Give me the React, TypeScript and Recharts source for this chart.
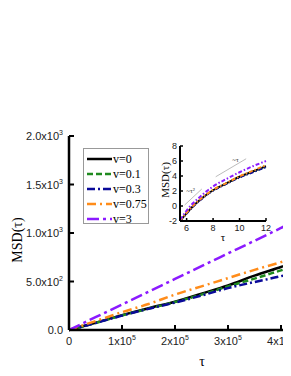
import React from "react"
import { LineChart, Line, XAxis, YAxis, ReferenceLine, ReferenceDot } from "recharts"

// main panel: tau in steps of 0.5x10^5
const tau = [0, 50000, 100000, 150000, 200000, 250000, 300000, 350000, 400000, 450000, 500000]
const msdV0 = [0, 75, 153, 225, 292, 375, 459, 560, 650, 745, 840]
const msdV01 = [0, 72, 150, 220, 288, 365, 449, 530, 615, 700, 790]
const msdV03 = [0, 72, 148, 218, 283, 355, 432, 495, 555, 630, 705]
const msdV075 = [0, 92, 184, 268, 365, 450, 535, 620, 700, 790, 875]
const msdV3 = [0, 132, 263, 395, 526, 658, 789, 920, 1052, 1184, 1315]

// inset (log scale)
const insetTau = [5.5, 6, 6.5, 7, 7.5, 8, 9, 10, 11, 12]
const insV0 = [-2, -0.95, 0, 0.8, 1.5, 2.1, 3.0, 3.9, 4.6, 5.3]
const insV01 = [-2, -0.95, 0, 0.8, 1.5, 2.1, 3.0, 3.85, 4.55, 5.25]
const insV03 = [-2, -1, -0.05, 0.75, 1.45, 2.05, 2.95, 3.8, 4.5, 5.2]
const insV075 = [-2, -0.9, 0.05, 0.85, 1.55, 2.15, 3.05, 3.95, 4.7, 5.45]
const insV3 = [-1.85, -0.6, 0.4, 1.2, 1.95, 2.6, 3.6, 4.5, 5.3, 6.0]

const xTicks = [0, 100000, 200000, 300000, 400000, 500000]
const xTickLabels = [["0", ""], ["1x10", "5"], ["2x10", "5"], ["3x10", "5"], ["4x10", "5"], ["5x10", "5"]]
const yTicks = [0, 500, 1000, 1500, 2000]
const yTickLabels = [["0.0", ""], ["5.0x10", "2"], ["1.0x10", "3"], ["1.5x10", "3"], ["2.0x10", "3"]]
const insetXTicks = [6, 8, 10, 12]
const insetYTicks = [-2, 0, 2, 4, 6, 8]

const series = [
  { key: "v0", name: "v=0", color: "#000000", dash: undefined },
  { key: "v01", name: "v=0.1", color: "#1f8a1f", dash: "6 3" },
  { key: "v03", name: "v=0.3", color: "#0a0a99", dash: "8 3 2 3" },
  { key: "v075", name: "v=0.75", color: "#ff8c1a", dash: "9 4 2 4" },
  { key: "v3", name: "v=3", color: "#8b1aff", dash: "12 4 3 4" },
]

const mainData = tau.map((t, i) => ({
  t, v0: msdV0[i], v01: msdV01[i], v03: msdV03[i], v075: msdV075[i], v3: msdV3[i],
}))
const insetData = insetTau.map((t, i) => ({
  t, v0: insV0[i], v01: insV01[i], v03: insV03[i], v075: insV075[i], v3: insV3[i],
}))

const sans = "'Liberation Sans', Arial, sans-serif"
const serif = "'Liberation Serif', 'Times New Roman', serif"

function MainYTick({ x, y, payload }: any) {
  const i = yTicks.indexOf(payload.value)
  const [base, sup] = yTickLabels[i] || [String(payload.value), ""]
  const ax = x + 6
  return (
    <g>
      <line x1={ax} x2={ax + 5} y1={y} y2={y} stroke="#000" strokeWidth={2} />
      <text x={x} y={y + 4} textAnchor="end" fontFamily={sans} fontSize={11} fill="#222">
        <tspan>{base}</tspan>
        {sup && <tspan dy={-5} fontSize={7}>{sup}</tspan>}
      </text>
    </g>
  )
}

function MainXTick({ x, y, payload }: any) {
  const i = xTicks.indexOf(payload.value)
  const [base, sup] = xTickLabels[i] || [String(payload.value), ""]
  const ay = y - 4
  return (
    <g>
      <line x1={x} x2={x} y1={ay} y2={ay - 5} stroke="#000" strokeWidth={2} />
      <text x={x} y={y + 11} textAnchor="middle" fontFamily={sans} fontSize={11} fill="#222">
        <tspan>{base}</tspan>
        {sup && <tspan dy={-5} fontSize={7}>{sup}</tspan>}
      </text>
    </g>
  )
}

function InsetYTick({ x, y, payload }: any) {
  const ax = x + 3
  return (
    <g>
      <line x1={ax} x2={ax + 3} y1={y} y2={y} stroke="#000" strokeWidth={1.5} />
      <text x={x} y={y + 3} textAnchor="end" fontFamily={sans} fontSize={9} fill="#222">{payload.value}</text>
    </g>
  )
}

function InsetXTick({ x, y, payload }: any) {
  const ay = y - 2
  return (
    <g>
      <line x1={x} x2={x} y1={ay} y2={ay - 3} stroke="#000" strokeWidth={1.5} />
      <text x={x} y={y + 8} textAnchor="middle" fontFamily={sans} fontSize={9} fill="#222">{payload.value}</text>
    </g>
  )
}

export default function App() {
  return (
    <div style={{ position: "relative", width: 283, height: 368, overflow: "hidden", background: "#fff" }}>
      <LineChart width={360} height={368} data={mainData} margin={{ top: 128, right: 34, bottom: 0, left: 0 }}>
        <XAxis
          dataKey="t"
          type="number"
          domain={[0, 500000]}
          ticks={xTicks}
          interval={0}
          tick={<MainXTick />}
          tickLine={false}
          tickSize={0}
          tickMargin={4}
          height={46}
          axisLine={{ stroke: "#000", strokeWidth: 2.5 }}
        />
        <XAxis xAxisId="top" orientation="top" type="number" domain={[0, 1]} tick={false} tickLine={false} height={0} axisLine={{ stroke: "#000", strokeWidth: 2.5 }} />
        <YAxis
          type="number"
          domain={[0, 2000]}
          ticks={yTicks}
          interval={0}
          tick={<MainYTick />}
          tickLine={false}
          tickSize={0}
          tickMargin={6}
          width={61}
          axisLine={{ stroke: "#000", strokeWidth: 2.5 }}
        />
        {series.map((s) => (
          <Line
            key={s.key}
            dataKey={s.key}
            stroke={s.color}
            strokeWidth={2.5}
            strokeDasharray={s.dash}
            dot={false}
            type="monotone"
            isAnimationActive={false}
          />
        ))}
      </LineChart>

      {/* axis titles */}
      <div style={{ position: "absolute", left: 10, top: 232, transform: "translate(-50%,-50%) rotate(-90deg)", fontFamily: serif, fontSize: 14, whiteSpace: "nowrap" }}>
        MSD(τ)
      </div>
      <div style={{ position: "absolute", left: 194, top: 354, transform: "translate(-50%,-50%)", fontFamily: serif, fontSize: 14 }}>
        τ
      </div>

      {/* legend */}
      <div style={{ position: "absolute", left: 75, top: 140, width: 66, height: 76, border: "1px solid #999", background: "#fff", boxSizing: "border-box" }}>
        {series.map((s, i) => (
          <div key={s.key} style={{ position: "absolute", left: 3, top: 3 + i * 15, height: 14, display: "flex", alignItems: "center" }}>
            <svg width={25} height={6}>
              <line x1={0} x2={25} y1={3} y2={3} stroke={s.color} strokeWidth={2.5} strokeDasharray={s.dash} />
            </svg>
            <span style={{ fontFamily: serif, fontSize: 12, marginLeft: 1, lineHeight: "14px" }}>{s.name}</span>
          </div>
        ))}
      </div>

      {/* inset */}
      <div style={{ position: "absolute", left: 140, top: 125 }}>
        <LineChart width={135} height={125} data={insetData} margin={{ top: 13, right: 17, bottom: 0, left: 0 }}>
          <XAxis
            dataKey="t"
            type="number"
            domain={[5.5, 12]}
            ticks={insetXTicks}
            interval={0}
            tick={<InsetXTick />}
            tickLine={false}
            tickSize={0}
            tickMargin={2}
            height={37}
            axisLine={{ stroke: "#000", strokeWidth: 2 }}
          />
          <XAxis xAxisId="top" orientation="top" type="number" domain={[0, 1]} tick={false} tickLine={false} height={0} axisLine={{ stroke: "#000", strokeWidth: 2 }} />
          <YAxis
            type="number"
            domain={[-2, 8]}
            ticks={insetYTicks}
            interval={0}
            tick={<InsetYTick />}
            tickLine={false}
            tickSize={0}
            tickMargin={3}
            width={32}
            axisLine={{ stroke: "#000", strokeWidth: 2 }}
          />
          <YAxis yAxisId="right" orientation="right" type="number" domain={[0, 1]} tick={false} tickLine={false} width={0} axisLine={{ stroke: "#000", strokeWidth: 2 }} />
          <ReferenceLine segment={[{ x: 5.85, y: 0.13 }, { x: 7.15, y: 2.27 }]} stroke="#aaa" strokeWidth={0.8} ifOverflow="extendDomain" />
          <ReferenceLine segment={[{ x: 8.2, y: 3.9 }, { x: 10.5, y: 6.3 }]} stroke="#aaa" strokeWidth={0.8} ifOverflow="extendDomain" />
          <ReferenceDot x={6.3} y={2.0} r={0} fill="none" stroke="none" label={{ value: "~τ²", position: "center", fontSize: 7, fontFamily: serif, fill: "#333" }} />
          <ReferenceDot x={9.7} y={6.2} r={0} fill="none" stroke="none" label={{ value: "~τ", position: "center", fontSize: 7, fontFamily: serif, fill: "#333" }} />
          {series.map((s) => (
            <Line
              key={s.key}
              dataKey={s.key}
              stroke={s.color}
              strokeWidth={2}
              strokeDasharray={s.dash ? "4 2 1.5 2" : undefined}
              dot={false}
              type="monotone"
              isAnimationActive={false}
            />
          ))}
        </LineChart>
        <div style={{ position: "absolute", left: 17, top: 47, transform: "translate(-50%,-50%) rotate(-90deg)", fontFamily: serif, fontSize: 11, whiteSpace: "nowrap" }}>
          MSD(τ)
        </div>
        <div style={{ position: "absolute", left: 75, top: 104, transform: "translate(-50%,-50%)", fontFamily: serif, fontSize: 11 }}>
          τ
        </div>
      </div>
    </div>
  )
}
